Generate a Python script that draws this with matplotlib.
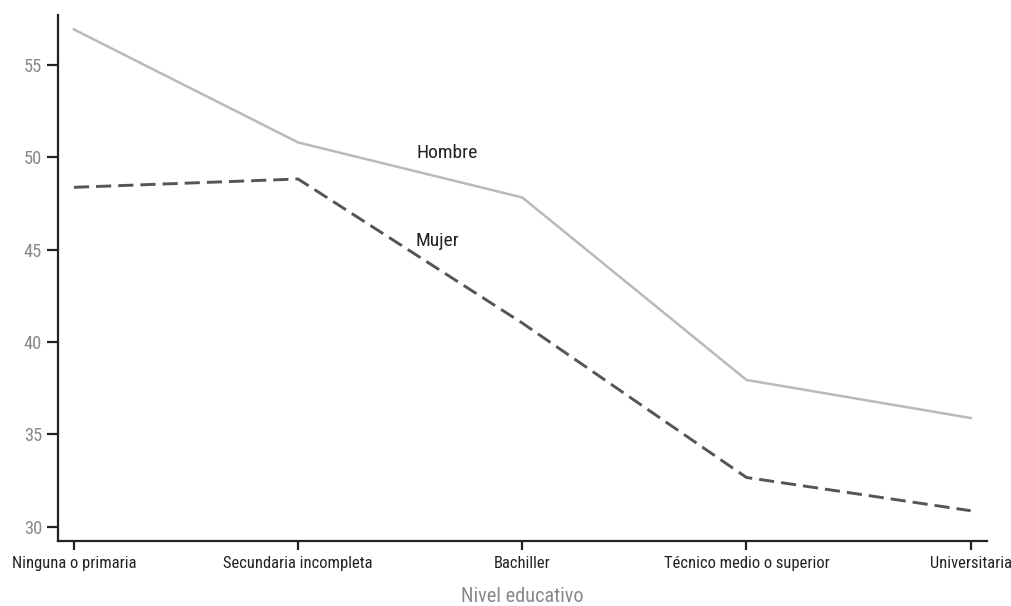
import matplotlib
matplotlib.use('Agg')
import matplotlib.pyplot as plt
from matplotlib import font_manager

categories = ['Ninguna o primaria', 'Secundaria incompleta', 'Bachiller',
              'Técnico medio o superior', 'Universitaria']
hombre = [56.93, 50.81, 47.83, 37.95, 35.89]
mujer  = [48.38, 48.83, 41.03, 32.67, 30.87]
yticks = [30, 35, 40, 45, 50, 55]

# pick a narrow, regular-weight face if one is installed
fonts = font_manager.fontManager.ttflist
font_file, scale = None, 0.8
for fam, sc in [('Roboto Condensed', 1.0), ('Liberation Sans Narrow', 1.05)]:
    hits = [f for f in fonts if f.name == fam and f.weight in (400, 'normal', 'regular') and f.style == 'normal']
    if hits:
        font_file, scale = hits[0].fname, sc
        break
if font_file is None:
    hits = [f for f in fonts if f.name == 'DejaVu Sans' and 'Condensed' in f.fname
            and 'Bold' not in f.fname and 'Oblique' not in f.fname]
    if hits:
        font_file, scale = hits[0].fname, 0.88


def fp(size):
    if font_file:
        return font_manager.FontProperties(fname=font_file, size=size * scale)
    return font_manager.FontProperties(family='DejaVu Sans', size=size * scale)


fig = plt.figure(figsize=(10.11, 6.06), dpi=100)
ax = fig.add_axes([58 / 1011, 1 - 541 / 606, (987 - 58) / 1011, (541 - 15) / 606])

x = list(range(len(categories)))
ax.plot(x, hombre, color='#bababa', lw=1.8)
ax.plot(x, mujer, color='#555555', lw=2.1, dashes=(5.2, 2.4))

ax.text(1.664, 50.23, 'Hombre', fontproperties=fp(14), color='#222222', ha='center', va='center')
ax.text(1.621, 45.45, 'Mujer', fontproperties=fp(14), color='#222222', ha='center', va='center')

ax.set_xlim(-0.071, 4.073)
ax.set_ylim(29.23, 57.71)
ax.set_xticks(x)
ax.set_xticklabels(categories, color='#222222')
ax.set_yticks(yticks)
ax.set_yticklabels([str(v) for v in yticks], color='#888888')
for lab in ax.get_xticklabels():
    lab.set_fontproperties(fp(11.9))
for lab in ax.get_yticklabels():
    lab.set_fontproperties(fp(13.3))
ax.tick_params(axis='y', length=8, width=1.6, color='#222222', pad=3.5)
ax.tick_params(axis='x', length=6.5, width=1.6, color='#222222', pad=4.5)

for side in ['top', 'right']:
    ax.spines[side].set_visible(False)
for side in ['left', 'bottom']:
    ax.spines[side].set_linewidth(1.6)
    ax.spines[side].set_color('#222222')

ax.set_xlabel('Nivel educativo', fontproperties=fp(14.6), color='#888888', labelpad=11)

fig.savefig('out.png', dpi=100)
